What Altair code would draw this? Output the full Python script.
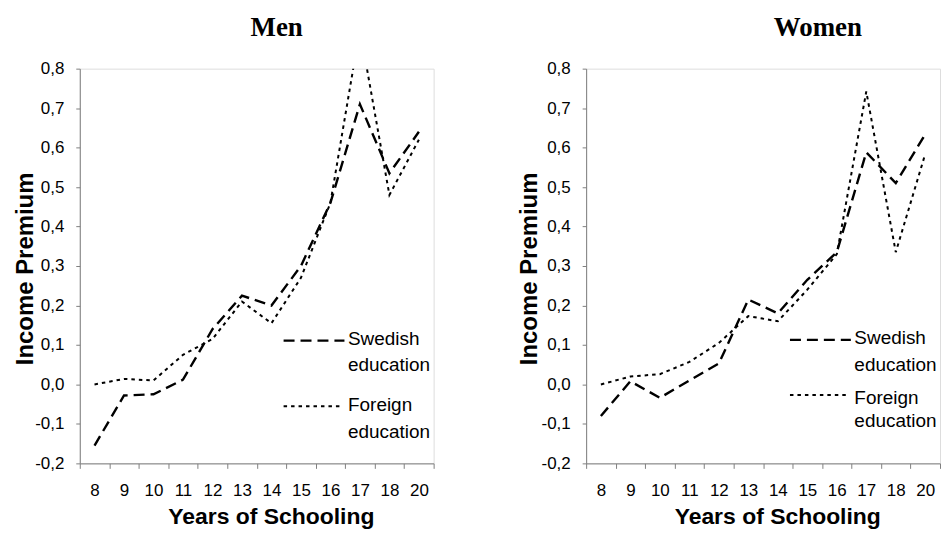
import altair as alt
import pandas as pd

# ---- data ----
years = ["8", "9", "10", "11", "12", "13", "14", "15", "16", "17", "18", "20"]
men_swedish = [-0.155, -0.028, -0.025, 0.012, 0.14, 0.225, 0.20, 0.30, 0.46, 0.71, 0.535, 0.64]
men_foreign = [0.0, 0.014, 0.01, 0.075, 0.115, 0.21, 0.155, 0.27, 0.46, 0.90, 0.48, 0.62]
women_swedish = [-0.08, 0.008, -0.034, 0.01, 0.053, 0.215, 0.18, 0.265, 0.335, 0.588, 0.51, 0.634]
women_foreign = [0.0, 0.02, 0.026, 0.057, 0.105, 0.173, 0.16, 0.24, 0.33, 0.742, 0.335, 0.584]
series_names = ["Swedish education", "Foreign education"]
y_ticks = [-0.2, -0.1, 0.0, 0.1, 0.2, 0.3, 0.4, 0.5, 0.6, 0.7, 0.8]

W = 355
H = 396
SANS = "Liberation Sans"
SERIF = "Liberation Serif"
AXIS_GREY = "#808080"


def make_frame(sw, fo):
    return pd.DataFrame({
        "year": years * 2,
        "series": [series_names[0]] * len(years) + [series_names[1]] * len(years),
        "value": sw + fo,
    })


def panel(sw, fo, title, title_dx, ytitle_x, leg):
    df = make_frame(sw, fo)
    x = alt.X(
        "year:N", sort=years,
        scale=alt.Scale(type="band", paddingInner=0, paddingOuter=0),
        axis=alt.Axis(
            title="Years of Schooling", labelAngle=0, tickBand="extent",
            tickSize=5, labelPadding=14, labelFont=SANS, labelFontSize=17,
            labelColor="black", titleFont=SANS, titleFontSize=23,
            titleFontWeight="bold", titleColor="black",
            titleX=0.54 * W, titleY=60, titleBaseline="alphabetic",
            titleAlign="center", domainColor=AXIS_GREY, tickColor=AXIS_GREY,
            grid=False,
        ),
    )
    y = alt.Y(
        "value:Q",
        scale=alt.Scale(domain=[-0.2, 0.8], nice=False, zero=False),
        axis=alt.Axis(
            title="Income Premium", values=y_ticks,
            labelExpr="replace(replace(format(datum.value, '.1f'), '.', ','), '\u2212', '-')",
            tickSize=4, labelPadding=12, labelFont=SANS, labelFontSize=17,
            labelColor="black", titleFont=SANS, titleFontSize=24,
            titleFontWeight="bold", titleColor="black", titleAngle=270,
            titleX=ytitle_x, titleY=0.506 * H, titleBaseline="middle",
            titleAlign="center", domainColor=AXIS_GREY, tickColor=AXIS_GREY,
            grid=False,
        ),
    )
    base = alt.Chart(df)
    sw_line = base.transform_filter(alt.datum.series == series_names[0]).mark_line(
        clip=True, color="black", strokeDash=[11, 6], strokeWidth=2.4
    ).encode(x=x, y=y)
    fo_line = base.transform_filter(alt.datum.series == series_names[1]).mark_line(
        clip=True, color="black", strokeDash=[3.5, 4], strokeWidth=2
    ).encode(x=x, y=y)

    one = pd.DataFrame({"k": [0]})
    lx0, lx1, tx = 0.576 * W, 0.748 * W, 0.758 * W
    layers = [sw_line, fo_line]
    # panel title drawn as text (kept above the clipped line's extent)
    layers.append(alt.Chart(one).mark_text(
        align="center", baseline="alphabetic", font=SERIF, fontSize=27,
        fontWeight="bold", color="black"
    ).encode(x=alt.value(W / 2 + title_dx), y=alt.value(-33), text=alt.value(title)))
    # legend samples
    layers.append(alt.Chart(one).mark_rule(color="black", strokeDash=[11, 6], strokeWidth=2.4).encode(
        x=alt.value(lx0), x2=alt.value(lx1), y=alt.value(leg[0] * H)))
    layers.append(alt.Chart(one).mark_rule(color="black", strokeDash=[3.5, 4], strokeWidth=2).encode(
        x=alt.value(lx0), x2=alt.value(lx1 - 4), y=alt.value(leg[3] * H)))
    texts = [("Swedish", leg[1]), ("education", leg[2]), ("Foreign", leg[4]), ("education", leg[5])]
    for t, fy in texts:
        layers.append(alt.Chart(one).mark_text(
            align="left", baseline="middle", font=SANS, fontSize=19, color="black"
        ).encode(x=alt.value(tx), y=alt.value(fy * H), text=alt.value(t)))

    return alt.layer(*layers).properties(width=W, height=H)


men = panel(men_swedish, men_foreign, "Men", 20, -54,
            [0.689, 0.685, 0.752, 0.855, 0.852, 0.920])
women = panel(women_swedish, women_foreign, "Women", 55, -57,
              [0.687, 0.683, 0.752, 0.827, 0.835, 0.892])

chart = alt.hconcat(men, women, spacing=82).properties(
    padding={"left": 5, "top": 4, "right": 0, "bottom": 0}
).configure_view(stroke=None).configure(background="white")

chart.save("out.html", embed_options={"renderer": "svg", "actions": False})
